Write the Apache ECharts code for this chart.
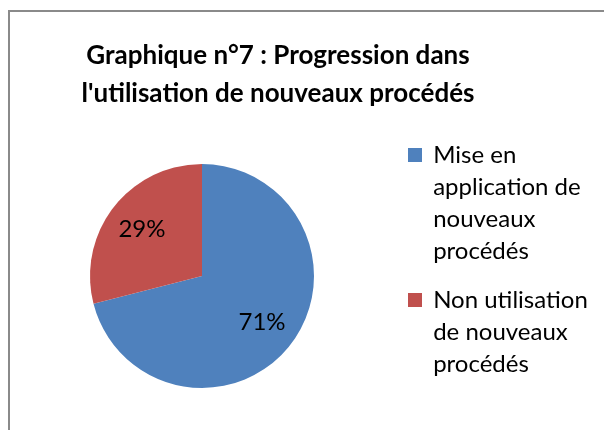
<!DOCTYPE html>
<html>
<head>
<meta charset="utf-8">
<script src="https://cdn.jsdelivr.net/npm/echarts@6/dist/echarts.min.js"></script>
<style>
  html, body { margin: 0; padding: 0; background: #fff; }
  #chart { width: 604px; height: 430px; }
</style>
</head>
<body>
<div id="chart"></div>
<script>
// catégories et valeurs (en %)
const categories = [
  'Mise en\napplication de\nnouveaux\nprocédés',
  'Non utilisation\nde nouveaux\nprocédés'
];
const values = [71, 29];
const colors = ['#4F81BD', '#C0504D'];

const FONT = 'Lato';
const chart = echarts.init(document.getElementById('chart'));

// lignes vides au-dessus pour que l'icône soit en face de la 1re ligne
function legendText(name) {
  const lines = name.split('\n');
  const pad = new Array(lines.length - 1).fill('').join('\n');
  return (lines.length > 1 ? pad + '\n' : '') + lines.map(l => ' ' + l).join('\n');
}

function makeLegend(i, top) {
  return {
    orient: 'vertical',
    left: 408,
    top: top,
    padding: 0,
    itemWidth: 14,
    itemHeight: 14,
    selectedMode: false,
    icon: 'rect',
    data: [categories[i]],
    formatter: legendText,
    textStyle: { fontFamily: FONT, fontSize: 24, lineHeight: 32, color: '#000' }
  };
}

const option = {
  animation: false,
  graphic: [{
    type: 'rect',
    shape: { x: 9, y: 11, width: 700, height: 600 },
    style: { fill: 'none', stroke: '#8a8a8a', lineWidth: 2 },
    silent: true
  }],
  title: {
    text: 'Graphique n°7 : Progression dans\nl\'utilisation de nouveaux procédés',
    left: 273,
    top: 32,
    textAlign: 'center',
    textStyle: {
      fontFamily: FONT,
      fontWeight: 'bold',
      fontSize: 26,
      lineHeight: 38,
      color: '#000'
    }
  },
  legend: [makeLegend(0, 43), makeLegend(1, 220)],
  series: [
    {
      type: 'pie',
      center: [202, 276],
      radius: 112,
      startAngle: 90,
      clockwise: true,
      silent: true,
      label: { show: false },
      labelLine: { show: false },
      data: categories.map((name, i) => ({
        name: name,
        value: values[i],
        itemStyle: { color: colors[i] }
      }))
    },
    {
      // anneau transparent pour placer les étiquettes à ~65% du rayon
      type: 'pie',
      center: [202, 276],
      radius: [34, 112],
      startAngle: 90,
      clockwise: true,
      silent: true,
      itemStyle: { color: 'rgba(0,0,0,0)' },
      label: {
        show: true,
        position: 'inside',
        formatter: '{c}%',
        fontFamily: FONT,
        fontSize: 24,
        color: '#000'
      },
      labelLine: { show: false },
      data: categories.map((name, i) => ({ name: name, value: values[i] }))
    }
  ]
};

chart.setOption(option);
</script>
</body>
</html>
